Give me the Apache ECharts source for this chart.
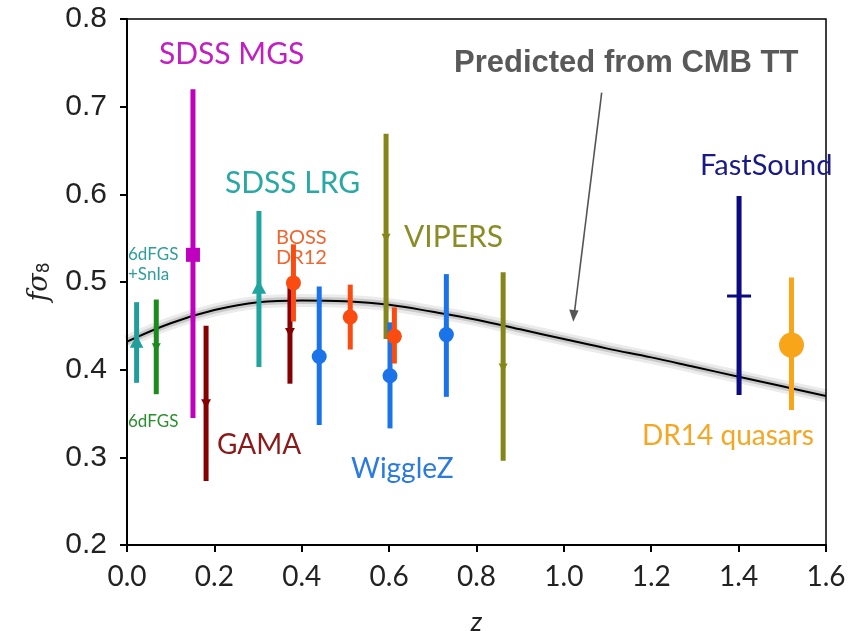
<!DOCTYPE html>
<html>
<head>
<meta charset="utf-8">
<script src="https://cdn.jsdelivr.net/npm/echarts@6/dist/echarts.min.js"></script>
<style>html,body{margin:0;padding:0;background:#fff;}#c{width:848px;height:631px;}</style>
</head>
<body>
<div id="c"></div>
<script>
// ---- data ----
const surveyNames = ['6dFGS+SnIa','6dFGS','SDSS MGS','GAMA','SDSS LRG','BOSS DR12','WiggleZ','VIPERS','FastSound','DR14 quasars'];
const surveyColors = ['#1f9e9a','#1c8a1c','#bf00bf','#850000','#21a3a0','#fa4c10','#1a73e8','#84861a','#0c0a80','#f8a51a'];
const surveyMarkers = ['triangle','triangleDown','square','triangleDown','triangle','circle','circle','triangleDown','dash','circle'];
const surveyMarkerSizes = [15,10,14,11,16,15,15,10,24,25];

const pointSurvey = [0, 1, 2, 3, 4, 3, 5, 6, 5, 7, 6, 5, 6, 7, 8, 9];
const pointZ      = [0.022,0.067,0.151,0.181,0.302,0.373,0.381,0.440,0.511,0.593,0.602,0.612,0.731,0.861,1.401,1.521];
const pointF      = [0.431,0.426,0.531,0.362,0.493,0.443,0.499,0.415,0.460,0.551,0.393,0.438,0.440,0.403,0.484,0.428];
const pointLo     = [0.385,0.372,0.345,0.273,0.403,0.384,0.455,0.337,0.423,0.435,0.333,0.407,0.369,0.296,0.371,0.354];
const pointHi     = [0.477,0.480,0.720,0.450,0.581,0.494,0.543,0.495,0.497,0.669,0.454,0.471,0.509,0.511,0.598,0.505];

const curveZ = [0,0.1,0.2,0.3,0.4,0.5,0.6,0.7,0.8,0.9,1.0,1.1,1.2,1.3,1.4,1.5,1.6];
const curveF = [0.432,0.453,0.468,0.477,0.479,0.478,0.474,0.466,0.457,0.446,0.435,0.424,0.414,0.403,0.392,0.381,0.370];

const xTicks = [0,0.2,0.4,0.6,0.8,1.0,1.2,1.4,1.6];
const yTicks = [0.2,0.3,0.4,0.5,0.6,0.7,0.8];

// ---- build ----
const curveData = curveZ.map((z,i)=>[z,curveF[i]]);
const pointData = pointZ.map((z,i)=>[z,pointF[i],pointLo[i],pointHi[i],pointSurvey[i]]);

function markerShape(type, c, s, color){
  const r = s/2;
  const style = {fill: color, stroke: color, lineWidth: 0};
  if (type === 'circle') return {type:'circle', shape:{cx:c[0], cy:c[1], r:r}, style};
  if (type === 'square') return {type:'rect', shape:{x:c[0]-r, y:c[1]-r, width:s, height:s}, style};
  if (type === 'triangle') return {type:'polygon', shape:{points:[[c[0],c[1]-r],[c[0]+r*0.9,c[1]+r*0.7],[c[0]-r*0.9,c[1]+r*0.7]]}, style};
  if (type === 'triangleDown') return {type:'polygon', shape:{points:[[c[0],c[1]+r],[c[0]+r*0.9,c[1]-r*0.7],[c[0]-r*0.9,c[1]-r*0.7]]}, style};
  if (type === 'dash') return {type:'rect', shape:{x:c[0]-r, y:c[1]-1.5, width:s, height:3}, style};
  return {type:'circle', shape:{cx:c[0], cy:c[1], r:r}, style};
}

const chart = echarts.init(document.getElementById('c'), null, {renderer:'canvas'});
const labelFont = 'Lato, "Open Sans", sans-serif';

function label(text, x, yc, size, color, extra){
  return Object.assign({type:'text', x:x, y:yc, style:Object.assign({text:text, fill:color, font:size+'px '+labelFont, verticalAlign:'middle', textVerticalAlign:'middle'}, extra||{})});
}

const option = {
  animation: false,
  backgroundColor: '#fff',
  grid: {left:127, right:22, top:19, bottom:86, show:true, borderColor:'#000', borderWidth:1.5, backgroundColor:'transparent', containLabel:false, outerBoundsMode:'none'},
  xAxis: {
    type:'value', min:0, max:1.6, interval:0.2,
    name:'z', nameLocation:'middle', nameGap:64,
    nameTextStyle:{fontFamily:labelFont, fontStyle:'italic', fontSize:27, color:'#222'},
    axisLine:{show:true, onZero:false, lineStyle:{color:'#000', width:2}},
    axisTick:{show:true, inside:false, length:7, lineStyle:{color:'#000', width:2}},
    axisLabel:{color:'#222', fontFamily:labelFont, fontSize:28, margin:18, formatter:v=>v.toFixed(1)},
    splitLine:{show:false}
  },
  yAxis: {
    type:'value', min:0.2, max:0.8, interval:0.1,
    name:'{f|f}{s|σ}{n|8}', nameLocation:'middle', nameGap:74, nameRotate:90,
    nameTextStyle:{color:'#222', rich:{
      f:{fontFamily:'"DejaVu Serif", serif', fontStyle:'italic', fontSize:27, color:'#222'},
      s:{fontFamily:'"DejaVu Serif", serif', fontStyle:'italic', fontSize:27, color:'#222'},
      n:{fontFamily:'"DejaVu Sans", sans-serif', fontSize:17, color:'#222', verticalAlign:'bottom', padding:[9,0,0,0]}
    }},
    axisLine:{show:true, onZero:false, lineStyle:{color:'#000', width:2}},
    axisTick:{show:true, inside:false, length:7, lineStyle:{color:'#000', width:2}},
    axisLabel:{color:'#222', fontFamily:'"Liberation Sans", Arial, sans-serif', fontSize:30, margin:20, formatter:v=>v.toFixed(1)},
    splitLine:{show:false}
  },
  series: [
    {type:'line', data:curveData, smooth:0.4, symbol:'none', z:1, lineStyle:{color:'rgba(0,0,0,0.08)', width:13}},
    {type:'line', data:curveData, smooth:0.4, symbol:'none', z:1, lineStyle:{color:'rgba(0,0,0,0.14)', width:7}},
    {type:'line', data:curveData, smooth:0.4, symbol:'none', z:2, lineStyle:{color:'#000', width:2}},
    {
      type:'custom', z:3, data:pointData,
      encode:{x:0, y:[1,2,3]},
      renderItem:function(params, api){
        const z = api.value(0), f = api.value(1), lo = api.value(2), hi = api.value(3), s = api.value(4);
        const pT = api.coord([z,hi]), pB = api.coord([z,lo]), pC = api.coord([z,f]);
        const color = surveyColors[s];
        return {type:'group', children:[
          {type:'line', shape:{x1:pT[0], y1:pT[1], x2:pB[0], y2:pB[1]}, style:{stroke:color, lineWidth:5}},
          markerShape(surveyMarkers[s], pC, surveyMarkerSizes[s], color)
        ]};
      }
    }
  ],
  graphic: [
    label('SDSS MGS', 159, 54, 30, '#c21fc2'),
    label('SDSS LRG', 225, 183, 30, '#2aa9a4'),
    label('BOSS\nDR12', 276, 248, 20, '#f0652e', {lineHeight:20}),
    label('VIPERS', 404, 237, 30, '#8a8c26'),
    label('6dFGS\n+SnIa', 128, 265, 17, '#2f9e9a', {lineHeight:20}),
    label('6dFGS', 128, 422, 17, '#2a8f2a'),
    label('GAMA', 217, 445, 28, '#8a1a1a'),
    label('WiggleZ', 351, 469, 28, '#2a7ae0'),
    label('FastSound', 700, 166, 29, '#1a1a85'),
    label('DR14 quasars', 642, 436, 28, '#f5a623'),
    {type:'text', x:454, y:63, style:{text:'Predicted from CMB TT', fill:'#595959', font:'bold 31px "Liberation Sans", Arial, sans-serif', verticalAlign:'middle', textVerticalAlign:'middle'}},
    {type:'line', shape:{x1:601.7, y1:92.7, x2:574.5, y2:312}, style:{stroke:'#555', lineWidth:1.6}},
    {type:'polygon', shape:{points:[[573.3,321.7],[569.2,309.5],[578.6,310.6]]}, style:{fill:'#555'}}
  ]
};
chart.setOption(option);
</script>
</body>
</html>
